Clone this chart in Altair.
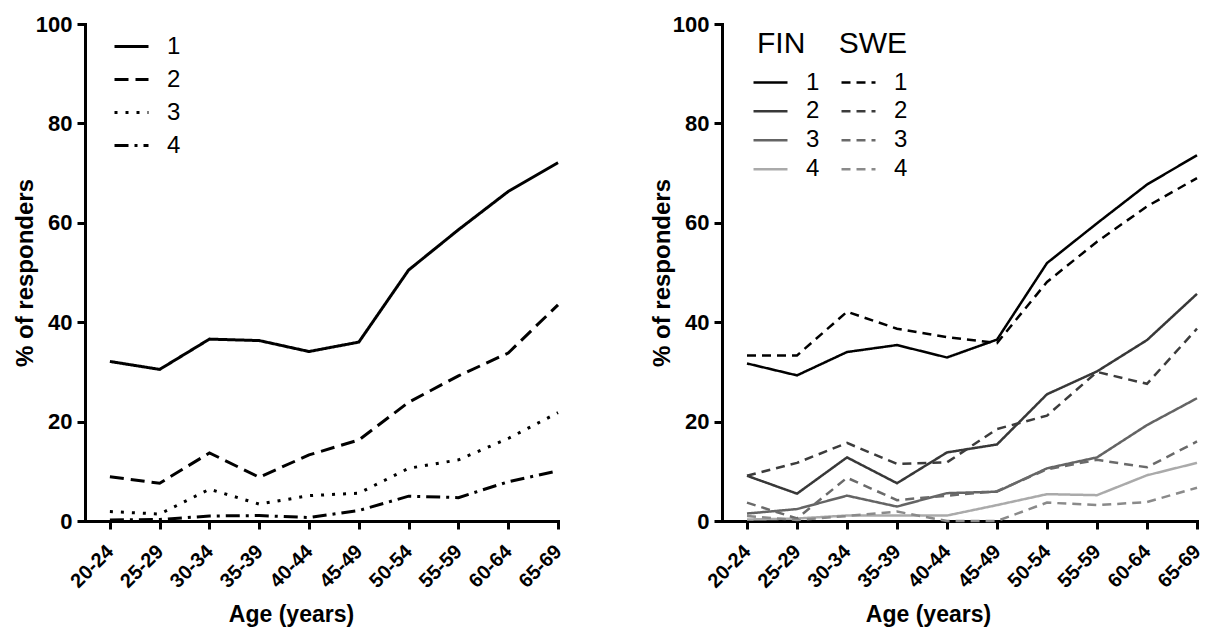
import altair as alt
import pandas as pd

ages = ["20-24", "25-29", "30-34", "35-39", "40-44", "45-49",
        "50-54", "55-59", "60-64", "65-69"]

# Left panel (all responders)
left_1 = [32.1, 30.5, 36.6, 36.3, 34.1, 36.0, 50.5, 58.6, 66.3, 72.1]
left_2 = [8.9, 7.6, 13.7, 8.8, 13.3, 16.3, 23.9, 29.2, 33.8, 43.5]
left_3 = [1.9, 1.4, 6.4, 3.4, 5.1, 5.6, 10.6, 12.3, 16.6, 21.8]
left_4 = [0.2, 0.3, 1.0, 1.1, 0.7, 2.1, 5.0, 4.7, 7.9, 10.1]

# Right panel (by country)
fin_1 = [31.7, 29.3, 34.0, 35.4, 32.9, 36.5, 51.9, 59.9, 67.7, 73.6]
fin_2 = [9.1, 5.5, 12.8, 7.6, 13.8, 15.4, 25.5, 30.1, 36.4, 45.7]
fin_3 = [1.5, 2.4, 5.1, 2.9, 5.6, 5.9, 10.6, 12.8, 19.3, 24.7]
fin_4 = [0.3, 0.5, 1.1, 1.1, 1.1, 3.2, 5.4, 5.2, 9.2, 11.7]
swe_1 = [33.3, 33.3, 42.1, 38.7, 37.0, 35.8, 48.1, 56.2, 63.3, 69.0]
swe_2 = [9.1, 11.7, 15.7, 11.5, 11.8, 18.5, 21.2, 30.0, 27.6, 38.7]
swe_3 = [3.7, 0.5, 8.7, 4.2, 5.1, 6.0, 10.4, 12.3, 10.8, 16.0]
swe_4 = [1.0, 0.2, 1.0, 1.9, 0.0, 0.0, 3.7, 3.2, 3.8, 6.7]

left_keys = ["1", "2", "3", "4"]
left_dash = [[1, 0], [14, 7], [3, 8], [14, 6, 3, 6]]

right_keys = ["FIN 1", "FIN 2", "FIN 3", "FIN 4", "SWE 1", "SWE 2", "SWE 3", "SWE 4"]
right_colors = ["#000000", "#383838", "#646464", "#aaaaaa",
                "#000000", "#3c3c3c", "#6a6a6a", "#8a8a8a"]
right_dash = [[1, 0], [1, 0], [1, 0], [1, 0], [9, 6], [9, 6], [9, 6], [9, 6]]

left_rows = []
for key, vals in zip(left_keys, [left_1, left_2, left_3, left_4]):
    for i, v in enumerate(vals):
        left_rows.append({"idx": i, "age": ages[i], "series": key, "value": v})
left_df = pd.DataFrame(left_rows)

right_rows = []
for key, vals in zip(right_keys, [fin_1, fin_2, fin_3, fin_4, swe_1, swe_2, swe_3, swe_4]):
    for i, v in enumerate(vals):
        right_rows.append({"idx": i, "age": ages[i], "key": key, "value": v})
right_df = pd.DataFrame(right_rows)

label_expr = "[" + ",".join("'%s'" % a for a in ages) + "][datum.value]"

H = 497
FONT = "Liberation Sans"


def x_enc():
    return alt.X(
        "idx:Q",
        scale=alt.Scale(domain=[-0.5, 9], nice=False, zero=False),
        axis=alt.Axis(values=list(range(10)), labelExpr=label_expr, labelAngle=-45,
                      labelFontSize=20, labelPadding=12, labelOffset=-7,
                      labelOverlap=False, labelBound=False, labelFlush=False,
                      title="Age (years)", titleFontSize=23,
                      titleBaseline="alphabetic", titleY=100, titleX=206),
    )


def y_enc():
    return alt.Y(
        "value:Q",
        scale=alt.Scale(domain=[0, 100], nice=False),
        axis=alt.Axis(values=[0, 20, 40, 60, 80, 100], title="% of responders",
                      labelFontSize=22, labelPadding=5, titleFontSize=24,
                      titlePadding=-2, labelOverlap=False),
    )


left = alt.Chart(left_df).mark_line(strokeWidth=3, color="black", strokeCap="butt").encode(
    x=x_enc(),
    y=y_enc(),
    strokeDash=alt.StrokeDash(
        "series:N",
        scale=alt.Scale(domain=left_keys, range=left_dash),
        legend=alt.Legend(orient="none", legendX=28, legendY=6, title=None, padding=0,
                          symbolType="stroke", symbolSize=1156, symbolStrokeWidth=3,
                          symbolStrokeColor="black",
                          labelFontSize=24, labelFont=FONT, labelOffset=17,
                          clipHeight=33, rowPadding=0),
    ),
    order="idx:Q",
).properties(width=473, height=H)

right_legend = alt.Legend(orient="none", legendX=30, legendY=5, padding=0,
                          title="FIN\u00a0\u00a0\u00a0\u00a0SWE", titleAnchor="end",
                          titleFont=FONT, titleFontWeight="normal", titleFontSize=30,
                          titleColor="black", titlePadding=9,
                          columns=2, columnPadding=20,
                          symbolType="stroke", symbolSize=1156, symbolStrokeWidth=2.5,
                          labelFontSize=24, labelFont=FONT, labelOffset=17,
                          labelExpr="split(datum.label, ' ')[1]",
                          clipHeight=28.5, rowPadding=0)

right = alt.Chart(right_df).mark_line(strokeWidth=2.5, strokeCap="butt").encode(
    x=x_enc(),
    y=y_enc(),
    color=alt.Color("key:N", scale=alt.Scale(domain=right_keys, range=right_colors),
                    legend=right_legend, sort=right_keys),
    strokeDash=alt.StrokeDash("key:N", scale=alt.Scale(domain=right_keys, range=right_dash),
                              legend=right_legend, sort=right_keys),
    order="idx:Q",
).properties(width=475, height=H)

chart = alt.hconcat(left, right, spacing=164, bounds="flush").resolve_scale(
    strokeDash="independent", color="independent"
).resolve_legend(
    strokeDash="independent", color="independent"
).configure_view(
    stroke=None
).configure_axis(
    domainColor="black", domainWidth=3, tickColor="black", tickWidth=3, tickSize=8,
    labelFont=FONT, labelFontWeight="bold", labelColor="black",
    titleFont=FONT, titleFontWeight="bold", titleColor="black",
    grid=False, domainCap="square",
).configure_legend(
    labelColor="black"
).properties(
    autosize=alt.AutoSizeParams(type="none"),
    padding={"left": 77, "top": 16, "right": 1120, "bottom": 601},
)

chart.save("out.html", embed_options={"renderer": "svg", "actions": False})
